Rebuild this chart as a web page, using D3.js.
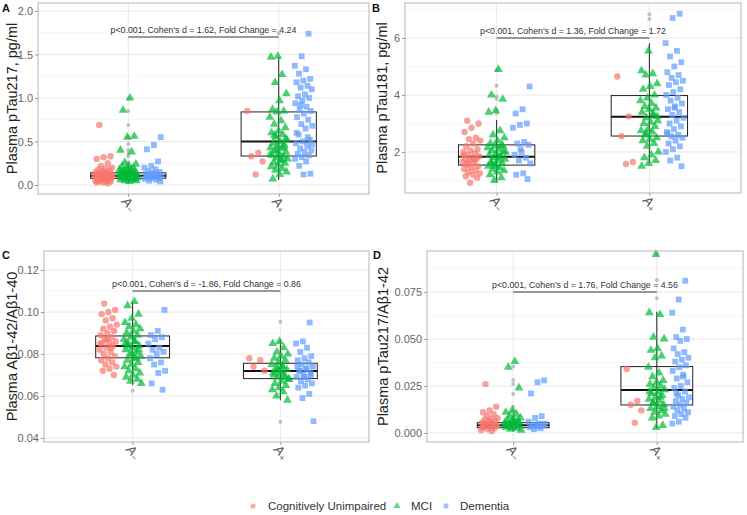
<!DOCTYPE html>
<html>
<head>
<meta charset="utf-8">
<script src="https://cdn.jsdelivr.net/npm/d3@7/dist/d3.min.js"></script>
<style>
body { margin: 0; background: #fff; }
svg { font-family: "Liberation Sans", Arial, sans-serif; }
</style>
</head>
<body>
<div id="chart"></div>
<script>
// amyloid status on x, diagnosis group as colour
const categories = ["A-", "A+"];
const groups = ["Cognitively Unimpaired", "MCI", "Dementia"];
const groupColors = ["#F8766D", "#00BA38", "#619CFF"];

// --- panel A: plasma pTau217 (pg/ml) ---
const pTau217_CU = [
    [0.69, 0.33, 0.32, 0.30, 0.25, 0.22, 0.20, 0.19, 0.18, 0.17, 0.16, 0.15, 0.14, 0.14, 0.13, 0.13, 0.12, 0.12, 0.11, 0.11, 0.10, 0.10, 0.10, 0.09, 0.09, 0.08, 0.08, 0.08, 0.07, 0.07, 0.06, 0.06, 0.05, 0.05, 0.04, 0.04, 0.03, 0.03, 0.02, 0.12, 0.10, 0.09, 0.11, 0.13],
    [0.85, 0.37, 0.33, 0.27, 0.12]
];
const pTau217_MCI = [
    [1.00, 0.86, 0.56, 0.55, 0.40, 0.38, 0.26, 0.24, 0.22, 0.21, 0.20, 0.19, 0.18, 0.17, 0.16, 0.15, 0.15, 0.14, 0.14, 0.13, 0.13, 0.12, 0.12, 0.12, 0.11, 0.11, 0.11, 0.10, 0.10, 0.10, 0.09, 0.09, 0.09, 0.08, 0.08, 0.08, 0.07, 0.07, 0.06, 0.06, 0.05, 0.05, 0.04, 0.12, 0.11, 0.10, 0.13, 0.14, 0.09],
    [1.48, 1.47, 1.27, 1.18, 1.05, 0.97, 0.87, 0.85, 0.84, 0.78, 0.74, 0.70, 0.66, 0.62, 0.60, 0.58, 0.55, 0.52, 0.50, 0.48, 0.46, 0.45, 0.43, 0.42, 0.40, 0.38, 0.36, 0.34, 0.33, 0.31, 0.30, 0.28, 0.26, 0.25, 0.23, 0.21, 0.19, 0.17, 0.15, 0.12, 0.07, 0.44, 0.39, 0.35, 0.29, 0.57, 0.53]
];
const pTau217_DEM = [
    [0.55, 0.46, 0.41, 0.27, 0.22, 0.20, 0.18, 0.16, 0.15, 0.14, 0.13, 0.12, 0.11, 0.10, 0.10, 0.09, 0.08, 0.08, 0.07, 0.06, 0.05, 0.04, 0.12, 0.11],
    [1.74, 1.48, 1.37, 1.33, 1.28, 1.22, 1.20, 1.18, 1.14, 1.12, 1.10, 1.04, 1.02, 1.00, 0.97, 0.94, 0.90, 0.87, 0.85, 0.82, 0.78, 0.75, 0.70, 0.68, 0.65, 0.58, 0.52, 0.50, 0.48, 0.45, 0.42, 0.40, 0.38, 0.36, 0.34, 0.32, 0.30, 0.27, 0.22, 0.13, 0.12, 0.60, 0.55, 0.92, 0.47]
];
// [whisker low, q1, median, q3, whisker high]
const pTau217_box = [[0.02, 0.077, 0.107, 0.14, 0.24], [0.06, 0.333, 0.50, 0.84, 1.475]];
const pTau217_out = [[0.26, 0.33, 0.36, 0.40, 0.47, 0.55, 0.69, 0.85, 0.99], [1.74]];

// --- panel B: plasma pTau181 (pg/ml) ---
const pTau181_CU = [
    [3.1, 3.0, 2.85, 2.7, 2.5, 2.45, 2.4, 2.3, 2.2, 2.1, 2.05, 2.0, 1.95, 1.9, 1.85, 1.8, 1.78, 1.75, 1.7, 1.65, 1.6, 1.55, 1.5, 1.45, 1.4, 1.35, 1.3, 1.25, 1.2, 1.15, 1.1, 0.92, 1.88, 1.72, 1.62],
    [4.65, 3.25, 2.55, 1.65, 1.58]
];
const pTau181_MCI = [
    [4.9, 4.0, 3.85, 3.45, 3.4, 2.75, 2.6, 2.5, 2.4, 2.3, 2.25, 2.2, 2.15, 2.1, 2.05, 2.0, 1.95, 1.9, 1.85, 1.8, 1.75, 1.7, 1.65, 1.6, 1.55, 1.5, 1.45, 1.4, 1.35, 1.3, 1.2, 1.1, 1.0, 2.0, 1.8, 1.6, 2.2, 1.5],
    [5.55, 4.85, 4.75, 4.7, 4.4, 4.3, 4.2, 4.0, 3.9, 3.8, 3.7, 3.6, 3.55, 3.5, 3.4, 3.3, 3.2, 3.1, 3.05, 3.0, 2.9, 2.8, 2.75, 2.7, 2.6, 2.5, 2.45, 2.4, 2.3, 2.2, 2.0, 1.9, 1.8, 1.7, 1.6, 1.5, 3.35, 2.65, 3.25]
];
const pTau181_DEM = [
    [4.3, 3.5, 3.35, 3.0, 2.95, 2.85, 2.35, 2.3, 2.25, 2.0, 1.9, 1.8, 1.7, 1.6, 1.25, 1.2, 1.05, 2.1],
    [6.85, 6.7, 5.82, 5.55, 5.35, 5.15, 5.0, 4.8, 4.7, 4.6, 4.5, 4.45, 4.35, 4.2, 4.1, 4.0, 3.9, 3.8, 3.7, 3.6, 3.5, 3.4, 3.3, 3.2, 3.1, 3.0, 2.9, 2.8, 2.7, 2.6, 2.55, 2.5, 2.4, 2.3, 2.2, 2.1, 2.0, 1.8, 1.7, 1.5, 3.55, 2.65]
];
const pTau181_box = [[0.96, 1.54, 1.83, 2.25, 3.12], [1.60, 2.56, 3.24, 3.98, 5.81]];
const pTau181_out = [[3.36, 3.47, 3.86, 3.95, 4.32, 4.88], [6.67, 6.83]];

// --- panel C: plasma Abeta42/40 ratio ---
const ab4240_CU = [
    [0.104, 0.101, 0.100, 0.099, 0.097, 0.096, 0.094, 0.093, 0.092, 0.091, 0.090, 0.089, 0.088, 0.087, 0.086, 0.0855, 0.085, 0.084, 0.083, 0.082, 0.081, 0.080, 0.079, 0.078, 0.077, 0.076, 0.075, 0.074, 0.073, 0.072, 0.070, 0.087, 0.085, 0.083],
    [0.078, 0.077, 0.074, 0.072]
];
const ab4240_MCI = [
    [0.105, 0.103, 0.099, 0.097, 0.095, 0.094, 0.093, 0.092, 0.091, 0.090, 0.089, 0.088, 0.087, 0.086, 0.085, 0.084, 0.083, 0.082, 0.081, 0.080, 0.079, 0.078, 0.077, 0.076, 0.075, 0.074, 0.073, 0.072, 0.071, 0.070, 0.069, 0.068, 0.067, 0.066, 0.086, 0.084, 0.082, 0.080, 0.085, 0.078],
    [0.086, 0.085, 0.083, 0.081, 0.080, 0.079, 0.078, 0.077, 0.076, 0.075, 0.074, 0.073, 0.0725, 0.072, 0.071, 0.070, 0.069, 0.068, 0.067, 0.066, 0.065, 0.064, 0.063, 0.062, 0.060, 0.058, 0.071, 0.070, 0.069, 0.073, 0.068, 0.074]
];
const ab4240_DEM = [
    [0.101, 0.091, 0.089, 0.088, 0.087, 0.085, 0.083, 0.082, 0.081, 0.080, 0.078, 0.076, 0.075, 0.072, 0.071, 0.066, 0.063],
    [0.095, 0.086, 0.085, 0.083, 0.081, 0.079, 0.078, 0.077, 0.076, 0.075, 0.074, 0.073, 0.072, 0.071, 0.070, 0.069, 0.068, 0.067, 0.066, 0.065, 0.064, 0.061, 0.059, 0.048, 0.073, 0.072, 0.070, 0.069, 0.074]
];
const ab4240_box = [[0.0652, 0.0782, 0.0838, 0.0886, 0.1049], [0.058, 0.0683, 0.0719, 0.0756, 0.0867]];
const ab4240_out = [[0.0625], [0.0478, 0.0954]];

// --- panel D: plasma pTau217 / Abeta42 ---
const ratio_CU = [
    [0.026, 0.014, 0.012, 0.011, 0.010, 0.009, 0.008, 0.0075, 0.007, 0.0065, 0.006, 0.0055, 0.005, 0.0045, 0.004, 0.0035, 0.003, 0.0025, 0.002, 0.0015, 0.001, 0.005, 0.004, 0.006, 0.003],
    [0.034, 0.017, 0.015, 0.012, 0.0055]
];
const ratio_MCI = [
    [0.038, 0.035, 0.024, 0.012, 0.011, 0.010, 0.009, 0.008, 0.0075, 0.007, 0.0065, 0.006, 0.0055, 0.005, 0.0045, 0.004, 0.0035, 0.003, 0.0025, 0.002, 0.0015, 0.005, 0.004, 0.006, 0.003, 0.0045],
    [0.095, 0.064, 0.063, 0.051, 0.050, 0.045, 0.044, 0.041, 0.040, 0.035, 0.032, 0.030, 0.028, 0.027, 0.026, 0.025, 0.024, 0.023, 0.022, 0.021, 0.020, 0.019, 0.018, 0.017, 0.016, 0.015, 0.014, 0.013, 0.012, 0.011, 0.010, 0.009, 0.008, 0.004, 0.003, 0.022, 0.019, 0.016, 0.013]
];
const ratio_DEM = [
    [0.028, 0.027, 0.021, 0.009, 0.008, 0.006, 0.005, 0.0045, 0.004, 0.0035, 0.003, 0.0025, 0.002, 0.005, 0.004],
    [0.081, 0.071, 0.064, 0.055, 0.051, 0.050, 0.049, 0.045, 0.043, 0.042, 0.040, 0.039, 0.038, 0.036, 0.035, 0.033, 0.031, 0.029, 0.027, 0.025, 0.024, 0.022, 0.020, 0.019, 0.018, 0.017, 0.016, 0.015, 0.014, 0.013, 0.012, 0.011, 0.010, 0.009, 0.008, 0.006, 0.005, 0.030, 0.021]
];
const ratio_box = [[0.0007, 0.0028, 0.0041, 0.0055, 0.0105], [0.0025, 0.0149, 0.0229, 0.0353, 0.0645]];
const ratio_out = [[0.012, 0.014, 0.0207, 0.026, 0.0282, 0.0353], [0.0716, 0.0814, 0.0952]];

// annotation labels and y ticks
const panelLetters = ["A", "B", "C", "D"];
const yTitles = ["Plasma pTau217, pg/ml", "Plasma pTau181, pg/ml", "Plasma A\u03B21-42/A\u03B21-40", "Plasma pTau217/A\u03B21-42"];
const statLabels = [
    "p<0.001, Cohen's d = 1.62, Fold Change = 4.24",
    "p<0.001, Cohen's d = 1.36, Fold Change = 1.72",
    "p<0.001, Cohen's d = -1.86, Fold Change = 0.86",
    "p<0.001, Cohen's d = 1.76, Fold Change = 4.56"
];
const statBarY = [1.70, 6.0, 0.110, 0.075];
const yTicksA = [0, 0.5, 1.0, 1.5, 2.0];
const yTicksB = [2, 4, 6];
const yTicksC = [0.04, 0.06, 0.08, 0.10, 0.12];
const yTicksD = [0, 0.025, 0.050, 0.075];

const width = 747, height = 515;
const svg = d3.select("#chart").append("svg")
    .attr("width", width)
    .attr("height", height);

// plot rectangles and y domains
let panels = [
    {rect: {l: 38, t: 3, r: 369, b: 194}, ydom: [-0.1034, 2.092], ticks: yTicksA, fmt: ".1f",
     series: [pTau217_CU, pTau217_MCI, pTau217_DEM], box: pTau217_box, out: pTau217_out, lx: 2, ly: 12},
    {rect: {l: 405, t: 3, r: 741, b: 193}, ydom: [0.561, 7.228], ticks: yTicksB, fmt: "d",
     series: [pTau181_CU, pTau181_MCI, pTau181_DEM], box: pTau181_box, out: pTau181_out, lx: 372, ly: 12},
    {rect: {l: 44, t: 251, r: 369, b: 442}, ydom: [0.0381, 0.12905], ticks: yTicksC, fmt: ".2f",
     series: [ab4240_CU, ab4240_MCI, ab4240_DEM], box: ab4240_box, out: ab4240_out, lx: 2, ly: 259},
    {rect: {l: 427, t: 251, r: 743, b: 442}, ydom: [-0.0048, 0.0968], ticks: yTicksD, fmt: ".3f",
     series: [ratio_CU, ratio_MCI, ratio_DEM], box: ratio_box, out: ratio_out, lx: 373, ly: 259}
];

let dodge = [-0.165, 0, 0.165];
let jitterW = 0.06;
// spread points sideways with a fixed low-discrepancy sequence
let jit = i => ((i * 0.618034 + 0.27) % 1) * 2 - 1;

panels.forEach((p, pi) => {
    let r = p.rect;
    let g = svg.append("g");

    let x = d3.scalePoint().domain(categories).range([r.l, r.r]).padding(0.6);
    let step = x.step();
    let y = d3.scaleLinear().domain(p.ydom).range([r.b, r.t]);

    // minor grid at midpoints
    let minor = [];
    let tstep = p.ticks[1] - p.ticks[0];
    let m0 = p.ticks[0] - tstep / 2;
    for (let k = 0; k <= p.ticks.length; k++) {
        let v = m0 + k * tstep;
        if (v > p.ydom[0] && v < p.ydom[1]) minor.push(v);
    }
    g.selectAll(".minor").data(minor).enter().append("line")
        .attr("x1", r.l).attr("x2", r.r)
        .attr("y1", d => y(d)).attr("y2", d => y(d))
        .attr("stroke", "#f4f4f4").attr("stroke-width", 0.8);
    g.selectAll(".major").data(p.ticks).enter().append("line")
        .attr("x1", r.l).attr("x2", r.r)
        .attr("y1", d => y(d)).attr("y2", d => y(d))
        .attr("stroke", "#e8e8e8").attr("stroke-width", 1);
    g.selectAll(".vgrid").data(categories).enter().append("line")
        .attr("x1", d => x(d)).attr("x2", d => x(d))
        .attr("y1", r.t).attr("y2", r.b)
        .attr("stroke", "#e8e8e8").attr("stroke-width", 1);

    // boxplots
    let bw = 0.5 * step;
    categories.forEach((c, ci) => {
        let b = p.box[ci];
        let cx = x(c);
        g.append("line")
            .attr("x1", cx).attr("x2", cx)
            .attr("y1", y(b[0])).attr("y2", y(b[4]))
            .attr("stroke", "#222").attr("stroke-width", 1);
        g.append("rect")
            .attr("x", cx - bw / 2).attr("width", bw)
            .attr("y", y(b[3])).attr("height", y(b[1]) - y(b[3]))
            .attr("fill", "none").attr("stroke", "#222").attr("stroke-width", 1);
        g.append("line")
            .attr("x1", cx - bw / 2).attr("x2", cx + bw / 2)
            .attr("y1", y(b[2])).attr("y2", y(b[2]))
            .attr("stroke", "#111").attr("stroke-width", 2);
        g.selectAll(".out" + ci).data(p.out[ci]).enter().append("circle")
            .attr("cx", cx).attr("cy", d => y(d)).attr("r", 2)
            .attr("fill", "#aaa").attr("opacity", 0.7);
    });

    // jittered points per diagnosis group
    p.series.forEach((ser, gi) => {
        categories.forEach((c, ci) => {
            let vals = ser[ci];
            let pts = g.selectAll(".pt" + gi + ci).data(vals).enter();
            let px = (d, i) => x(c) + (dodge[gi] + jit(i + gi * 7 + ci * 3) * jitterW) * step;
            if (gi === 0) {
                pts.append("circle")
                    .attr("cx", px).attr("cy", d => y(d)).attr("r", 3.2)
                    .attr("fill", groupColors[gi]).attr("opacity", 0.7);
            } else {
                let sym = gi === 1 ? d3.symbol(d3.symbolTriangle, 34) : d3.symbol(d3.symbolSquare, 34);
                pts.append("path")
                    .attr("d", sym)
                    .attr("transform", (d, i) => "translate(" + px(d, i) + "," + y(d) + ")")
                    .attr("fill", groupColors[gi]).attr("opacity", 0.7);
            }
        });
    });

    // stat annotation
    let by = y(statBarY[pi]);
    g.append("line")
        .attr("x1", x(categories[0])).attr("x2", x(categories[1]))
        .attr("y1", by).attr("y2", by)
        .attr("stroke", "#777").attr("stroke-width", 1.5);
    g.append("text")
        .attr("x", (x(categories[0]) + x(categories[1])) / 2)
        .attr("y", by - 4)
        .attr("text-anchor", "middle")
        .style("font-size", "8.8px")
        .attr("fill", "#333")
        .text(statLabels[pi]);

    // panel border
    g.append("rect")
        .attr("x", r.l).attr("y", r.t)
        .attr("width", r.r - r.l).attr("height", r.b - r.t)
        .attr("fill", "none").attr("stroke", "#b5b5b5").attr("stroke-width", 1);

    // y axis
    let yAxis = d3.axisLeft(y).tickValues(p.ticks).tickFormat(d3.format(p.fmt)).tickSize(3).tickPadding(2);
    let ya = g.append("g").attr("transform", "translate(" + r.l + ",0)").call(yAxis);
    ya.select(".domain").remove();
    ya.selectAll("line").attr("stroke", "#999");
    ya.selectAll("text").attr("fill", "#666").style("font-size", "11px")
        .style("font-family", "'Liberation Sans', Arial, sans-serif");

    // x axis with rotated labels
    let xAxis = d3.axisBottom(x).tickSize(3).tickFormat("");
    let xa = g.append("g").attr("transform", "translate(0," + r.b + ")").call(xAxis);
    xa.select(".domain").remove();
    xa.selectAll("line").attr("stroke", "#999");
    categories.forEach(c => {
        let t = g.append("text")
            .attr("transform", "translate(" + (x(c) + 1) + "," + (r.b + 10) + ") rotate(45)")
            .attr("text-anchor", "middle")
            .attr("dy", "0.35em")
            .attr("fill", "#555")
            .style("font-size", "13px")
            .style("font-style", "italic");
        t.append("tspan").text("A");
        t.append("tspan").attr("dy", "0.25em").style("font-size", "9px").text(c === "A-" ? "\u2212" : "+");
    });

    // y title
    g.append("text")
        .attr("transform", "translate(" + (p.lx + 10) + "," + ((r.t + r.b) / 2) + ") rotate(-90)")
        .attr("text-anchor", "middle")
        .attr("dy", "0.35em")
        .attr("fill", "#222")
        .style("font-size", "14.5px")
        .text(yTitles[pi]);

    // panel letter
    svg.append("text")
        .attr("x", p.lx).attr("y", p.ly)
        .style("font-size", "11px").style("font-weight", "bold")
        .attr("fill", "#111")
        .text(panelLetters[pi]);
});

// legend
let legend = svg.append("g").attr("transform", "translate(0,506)");
let legendX = [253, 397, 446];
let legendTextX = [268, 411, 460];
groups.forEach((name, gi) => {
    if (gi === 0) {
        legend.append("circle").attr("cx", legendX[gi]).attr("cy", 0).attr("r", 2.6)
            .attr("fill", groupColors[gi]).attr("opacity", 0.6);
    } else {
        let sym = gi === 1 ? d3.symbol(d3.symbolTriangle, 22) : d3.symbol(d3.symbolSquare, 22);
        legend.append("path").attr("d", sym)
            .attr("transform", "translate(" + legendX[gi] + ",0)")
            .attr("fill", groupColors[gi]).attr("opacity", 0.6);
    }
    legend.append("text")
        .attr("x", legendTextX[gi]).attr("y", 0).attr("dy", "0.35em")
        .style("font-size", "11.5px")
        .attr("fill", "#333")
        .text(name);
});
</script>
</body>
</html>
